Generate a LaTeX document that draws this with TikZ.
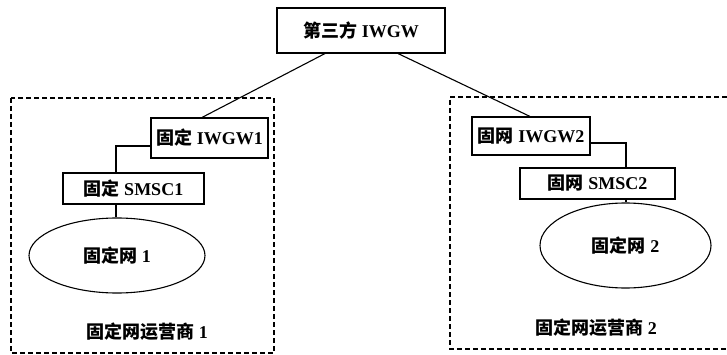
\documentclass[tikz,border=0pt]{standalone}
\usepackage{fontspec}
\setmainfont{Liberation Serif}
\newfontfamily\cjk{Noto Sans CJK SC}
\usetikzlibrary{shapes.geometric,calc}
\begin{document}
\begin{tikzpicture}[x=1pt,y=-1pt,
  every node/.style={font=\fontsize{18}{20}\selectfont\bfseries},
  boxnode/.style={draw,line width=1.1pt,inner sep=0pt,rectangle},
  netnode/.style={draw,line width=1.1pt,ellipse,inner sep=0pt},
  link/.style={line width=1.1pt},
  opbox/.style={line width=1.2pt,dash pattern=on 5pt off 3pt}]
\useasboundingbox (0,0) rectangle (727,355);
% operator areas
\draw[opbox] (11,98) rectangle (274,353);
\draw[opbox] (727,97) -- (450,97) -- (450,349) -- (727,349);
% nodes
\node[boxnode,minimum width=168pt,minimum height=45pt] (top) at (361,30.5) {{\cjk 第三方} IWGW};
\node[boxnode,minimum width=117pt,minimum height=40pt] (iw1) at (209.5,138) {{\cjk 固定} IWGW1};
\node[boxnode,minimum width=141pt,minimum height=31pt] (sm1) at (133.5,188.5) {{\cjk 固定} SMSC1};
\node[netnode,minimum width=176pt,minimum height=75pt] (net1) at (117,255.5) {{\cjk 固定网} 1};
\node[boxnode,minimum width=118pt,minimum height=38pt] (iw2) at (531,136) {{\cjk 固网} IWGW2};
\node[boxnode,minimum width=155pt,minimum height=31pt] (sm2) at (597.5,183.5) {{\cjk 固网} SMSC2};
\node[netnode,minimum width=171pt,minimum height=85pt] (net2) at (625.5,245.5) {{\cjk 固定网} 2};
\node (op1) at (147,332) {{\cjk 固定网运营商} 1};
\node (op2) at (596,328) {{\cjk 固定网运营商} 2};
% connectors
\draw[link] ([xshift=-36pt]top.south) -- ([xshift=-7.5pt]iw1.north);
\draw[link] ([xshift=37pt]top.south) -- ([xshift=-1pt]iw2.north);
\draw[link] ([yshift=-8pt]iw1.west) -| ([xshift=-17.5pt]sm1.north);
\draw[link] ([xshift=-17.5pt]sm1.south) -- ([xshift=-17.5pt]sm1.south |- net1.north);
\draw[link] ([yshift=-7pt]iw2.east) -| ([xshift=28.5pt]sm2.north);
\draw[link] ([xshift=28.5pt]sm2.south) -- ([xshift=28.5pt]sm2.south |- net2.north);
\end{tikzpicture}
\end{document}
